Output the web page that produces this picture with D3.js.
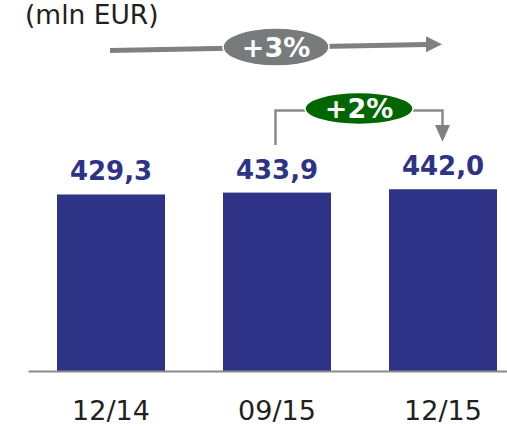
<!DOCTYPE html>
<html>
<head>
<meta charset="utf-8">
<script src="https://cdn.jsdelivr.net/npm/d3@7"></script>
<style>
  html, body { margin: 0; padding: 0; background: #fff; }
  svg { display: block; }
  text { font-family: "DejaVu Sans", Verdana, sans-serif; }
</style>
</head>
<body>
<svg id="chart" width="507" height="426"></svg>
<script>
// Balance figures (mln EUR) per reporting date
const categories = ["12/14", "09/15", "12/15"];
const values = [429.3, 433.9, 442.0];
const valueLabels = ["429,3", "433,9", "442,0"];
const unitLabel = "(mln EUR)";
const growthTotal = "+3%";     // 12/14 -> 12/15
const growthQuarter = "+2%";   // 09/15 -> 12/15

const svg = d3.select("#chart");

const x = d3.scaleBand()
  .domain(categories)
  .range([28, 526])
  .paddingInner(58 / 166)
  .paddingOuter(29 / 166);

const y = d3.scaleLinear()
  .domain([0, 500])
  .range([371, 165.4]);

const barColor = "#2e3388";

// Bars
svg.append("g")
  .selectAll("rect")
  .data(values)
  .join("rect")
  .attr("x", (d, i) => x(categories[i]))
  .attr("y", d => y(d))
  .attr("width", x.bandwidth())
  .attr("height", d => y(0) - y(d))
  .attr("fill", barColor);

// Value labels above the bars
svg.append("g")
  .selectAll("text")
  .data(values)
  .join("text")
  .attr("x", (d, i) => x(categories[i]) + x.bandwidth() / 2)
  .attr("y", d => y(d) - 14)
  .attr("text-anchor", "middle")
  .attr("font-size", 26)
  .attr("font-weight", "bold")
  .attr("fill", barColor)
  .text((d, i) => valueLabels[i]);

// Category axis
const axis = svg.append("g")
  .attr("transform", `translate(0,${y(0)})`)
  .call(d3.axisBottom(x).tickSize(0));
axis.select(".domain")
  .attr("stroke", "#8a8a8a")
  .attr("stroke-width", 2);
axis.selectAll("text")
  .attr("y", 48.5)
  .attr("dy", 0)
  .attr("font-size", 27)
  .attr("font-family", "DejaVu Sans, Verdana, sans-serif")
  .attr("fill", "#231f20");

// Unit label
svg.append("text")
  .attr("x", 25)
  .attr("y", 23.5)
  .attr("font-size", 26.5)
  .attr("fill", "#231f20")
  .text(unitLabel);

const cx = c => x(c) + x.bandwidth() / 2;

// Overall growth arrow (first to last date)
const gx0 = cx(categories[0]) - 1;
const gx1 = cx(categories[2]) - 1;
const gy0 = 50.5, gy1 = 44.3;
const headLen = 16, headHalf = 8;
svg.append("line")
  .attr("x1", gx0).attr("y1", gy0)
  .attr("x2", gx1 - headLen + 1).attr("y2", gy1 + 0.3)
  .attr("stroke", "#808080")
  .attr("stroke-width", 5);
svg.append("path")
  .attr("d", `M${gx1},${gy1} L${gx1 - headLen},${gy1 - headHalf} L${gx1 - headLen},${gy1 + headHalf} Z`)
  .attr("fill", "#808080");
const e1x = (gx0 + gx1) / 2;
svg.append("ellipse")
  .attr("cx", e1x).attr("cy", 47)
  .attr("rx", 53).attr("ry", 19)
  .attr("fill", "#777b7b")
  .attr("stroke", "#ffffff")
  .attr("stroke-width", 1.5);
svg.append("text")
  .attr("x", e1x).attr("y", 56.5)
  .attr("text-anchor", "middle")
  .attr("font-size", 27)
  .attr("font-weight", "bold")
  .attr("fill", "#ffffff")
  .text(growthTotal);

// Quarter growth bracket (second to last date)
const bx0 = cx(categories[1]) - 1.5;
const bx1 = cx(categories[2]) - 0.5;
const by = 110.5;
svg.append("path")
  .attr("d", `M${bx0},145 L${bx0},${by} L${bx1},${by} L${bx1},127`)
  .attr("fill", "none")
  .attr("stroke", "#8a8a8a")
  .attr("stroke-width", 2.5);
svg.append("path")
  .attr("d", `M${bx1},141.7 L${bx1 - 7.5},125 L${bx1 + 7.5},125 Z`)
  .attr("fill", "#808080");
const e2x = (bx0 + bx1) / 2;
svg.append("ellipse")
  .attr("cx", e2x).attr("cy", 108.5)
  .attr("rx", 54).attr("ry", 16)
  .attr("fill", "#006600")
  .attr("stroke", "#ffffff")
  .attr("stroke-width", 1.5);
svg.append("text")
  .attr("x", e2x).attr("y", 118.3)
  .attr("text-anchor", "middle")
  .attr("font-size", 27)
  .attr("font-weight", "bold")
  .attr("fill", "#ffffff")
  .text(growthQuarter);
</script>
</body>
</html>
